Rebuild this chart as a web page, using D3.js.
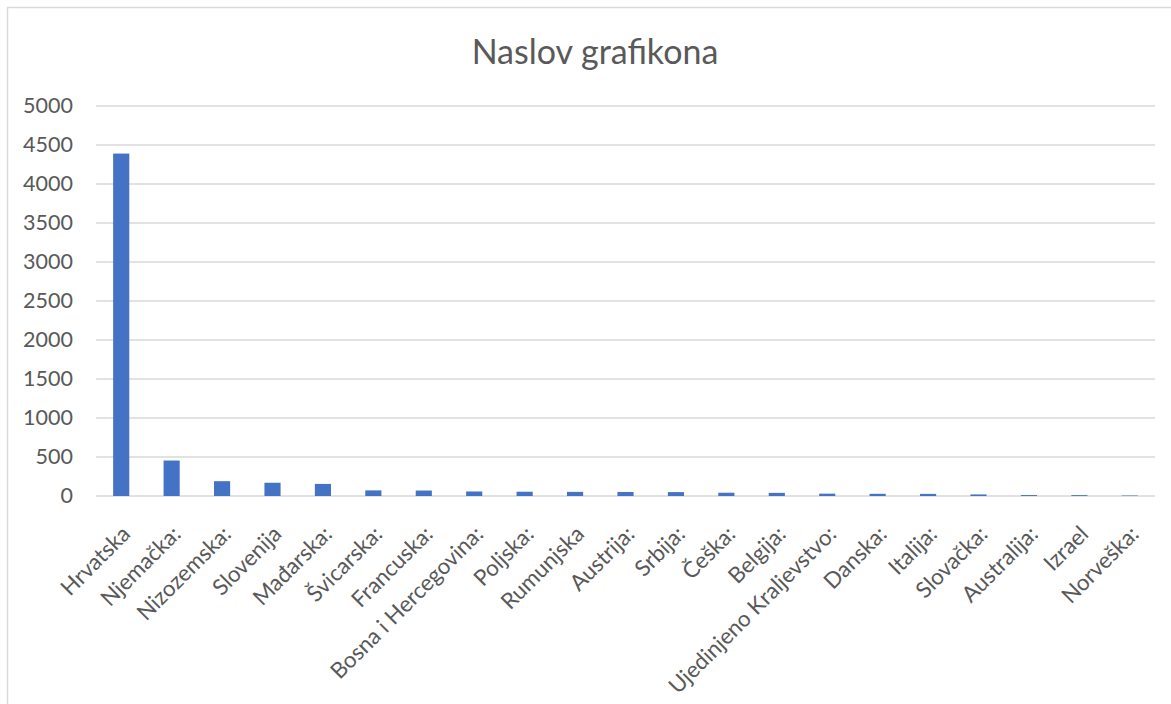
<!DOCTYPE html>
<html>
<head>
<meta charset="utf-8">
<script src="https://cdn.jsdelivr.net/npm/d3@7"></script>
<style>
  html, body { margin: 0; padding: 0; background: #fff; }
  svg { display: block; }
  text { font-family: Lato, "Open Sans", sans-serif; fill: #595959; }
</style>
</head>
<body>
<svg id="chart" width="1171" height="704"></svg>
<script>
const title = "Naslov grafikona";
const categories = ["Hrvatska", "Njemačka:", "Nizozemska:", "Slovenija", "Mađarska:", "Švicarska:", "Francuska:", "Bosna i Hercegovina:", "Poljska:", "Rumunjska", "Austrija:", "Srbija:", "Češka:", "Belgija:", "Ujedinjeno Kraljevstvo:", "Danska:", "Italija:", "Slovačka:", "Australija:", "Izrael", "Norveška:"];
const values = [4390, 455, 190, 170, 155, 72, 70, 58, 55, 53, 52, 50, 42, 40, 30, 28, 27, 20, 12, 11, 6];
const yTicks = [0, 500, 1000, 1500, 2000, 2500, 3000, 3500, 4000, 4500, 5000];

const svg = d3.select("#chart");

// chart area frame
svg.append("rect")
  .attr("x", 7.5).attr("y", 7.5)
  .attr("width", 1250).attr("height", 800)
  .attr("fill", "#fff")
  .attr("stroke", "#D9D9D9").attr("stroke-width", 1.5);

const plot = { left: 96, right: 1155, top: 106, bottom: 496 };

const x = d3.scaleBand()
  .domain(categories)
  .range([plot.left, plot.right])
  .paddingInner(0.68)
  .paddingOuter(0.34);

const y = d3.scaleLinear()
  .domain([0, 5000])
  .range([plot.bottom, plot.top]);

// gridlines
svg.append("g")
  .selectAll("line")
  .data(yTicks)
  .join("line")
  .attr("x1", plot.left).attr("x2", plot.right)
  .attr("y1", d => y(d)).attr("y2", d => y(d))
  .attr("stroke", "#D9D9D9").attr("stroke-width", 1.5);

// y axis labels
const yAxis = d3.axisLeft(y).tickValues(yTicks).tickFormat(d3.format("d")).tickSize(0).tickPadding(23);
const gy = svg.append("g").attr("transform", `translate(${plot.left},0)`).call(yAxis);
gy.select(".domain").remove();
gy.selectAll("text")
  .style("font-family", "Lato, 'Open Sans', sans-serif")
  .style("font-size", "21.5px")
  .attr("fill", "#595959");

// bars
svg.append("g")
  .selectAll("rect")
  .data(values)
  .join("rect")
  .attr("x", (d, i) => x(categories[i]))
  .attr("width", x.bandwidth())
  .attr("y", d => y(d))
  .attr("height", d => y(0) - y(d))
  .attr("fill", "#4472C4");

// x axis labels
const xAxis = d3.axisBottom(x).tickSize(0).tickPadding(0);
const gx = svg.append("g").attr("transform", `translate(0,${plot.bottom})`).call(xAxis);
gx.select(".domain").remove();
gx.selectAll("text")
  .style("font-family", "Lato, 'Open Sans', sans-serif")
  .style("font-size", "22.3px")
  .attr("fill", "#595959")
  .attr("text-anchor", "end")
  .attr("dy", null)
  .attr("y", 0)
  .attr("transform", "translate(-2,27) rotate(-45)")
  .attr("dominant-baseline", "hanging");

// title
svg.append("text")
  .attr("x", 595).attr("y", 64)
  .attr("text-anchor", "middle")
  .style("font-size", "34px")
  .attr("fill", "#595959")
  .text(title);
</script>
</body>
</html>
